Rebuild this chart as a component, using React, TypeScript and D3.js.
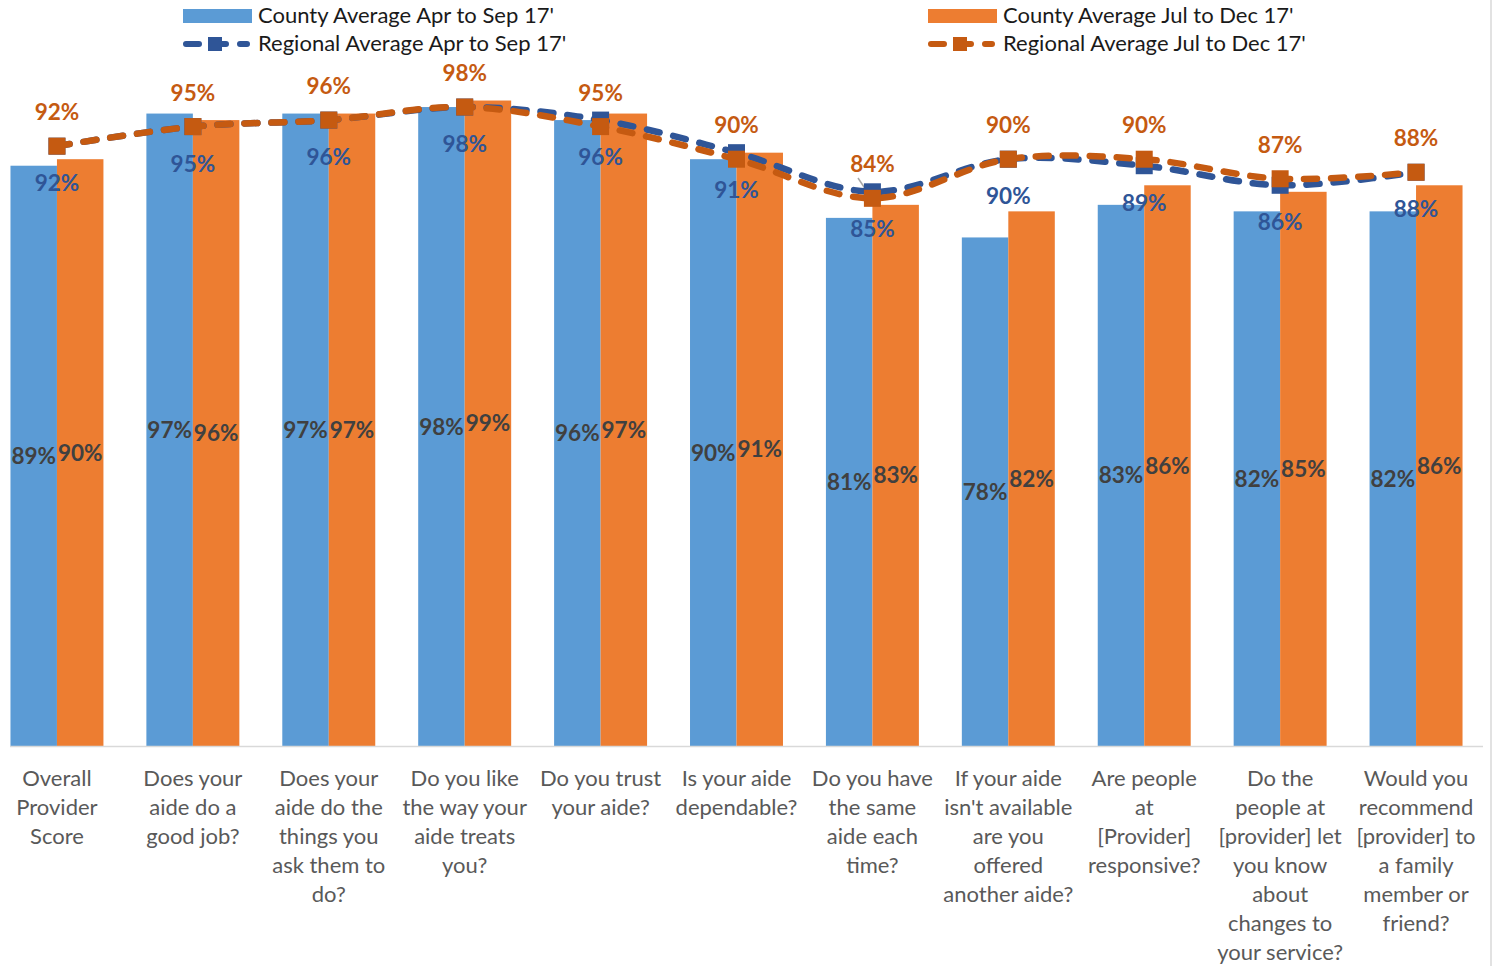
import React from 'react';
import * as d3 from 'd3';

const categories: string[] = [
  "Overall\nProvider\nScore",
  "Does your\naide do a\ngood job?",
  "Does your\naide do the\nthings you\nask them to\ndo?",
  "Do you like\nthe way your\naide treats\nyou?",
  "Do you trust\nyour aide?",
  "Is your aide\ndependable?",
  "Do you have\nthe same\naide each\ntime?",
  "If your aide\nisn't available\nare you\noffered\nanother aide?",
  "Are people\nat\n[Provider]\nresponsive?",
  "Do the\npeople at\n[provider] let\nyou know\nabout\nchanges to\nyour service?",
  "Would you\nrecommend\n[provider] to\na family\nmember or\nfriend?",
];

const countyAprSep: number[] = [89, 97, 97, 98, 96, 90, 81, 78, 83, 82, 82];
const countyJulDec: number[] = [90, 96, 97, 99, 97, 91, 83, 82, 86, 85, 86];
const regionalAprSep: number[] = [92, 95, 96, 98, 96, 91, 85, 90, 89, 86, 88];
const regionalJulDec: number[] = [92, 95, 96, 98, 95, 90, 84, 90, 90, 87, 88];

const seriesNames = [
  "County Average Apr to Sep 17'",
  "Regional Average Apr to Sep 17'",
  "County Average Jul to Dec 17'",
  "Regional Average Jul to Dec 17'",
];

const W = 1496;
const H = 966;
const BLUE = '#5B9BD5';
const ORANGE = '#ED7D31';
const DBLUE = '#2F5597';
const DORANGE = '#C55A11';
const FONT = "Lato, 'Open Sans', sans-serif";

export default function App() {
  const idx = categories.map((_, i) => String(i));
  const x0 = d3.scaleBand<string>().domain(idx).range([-11, 1484]).paddingInner(0.316).paddingOuter(0.158);
  const x1 = d3.scaleBand<string>().domain(['a', 'b']).range([0, x0.bandwidth()]);
  const y = d3.scaleLinear().domain([0, 100]).range([746, 94]);
  const cx = (i: number) => (x0(String(i)) as number) + x0.bandwidth() / 2;

  const line = d3.line<number>().x((_, i) => cx(i)).y(d => y(d)).curve(d3.curveCatmullRom.alpha(0.5));
  const ms = 17;
  const fmt = (v: number) => `${Math.round(v)}%`;
  const LF = 22.5;

  return (
    <svg width={W} height={H} style={{ position: 'absolute', left: 0, top: 0, background: '#fff' }} fontFamily={FONT}>
      <rect x={0} y={0} width={W} height={H} fill="#fff" />
      {/* right border */}
      <line x1={1491} x2={1491} y1={0} y2={H} stroke="#D9D9D9" strokeWidth={1.5} />
      {/* bars */}
      {categories.map((_, i) => (
        <g key={i} transform={`translate(${x0(String(i))},0)`}>
          <rect x={x1('a')} y={y(countyAprSep[i])} width={x1.bandwidth()} height={y(0) - y(countyAprSep[i])} fill={BLUE} />
          <rect x={x1('b')} y={y(countyJulDec[i])} width={x1.bandwidth()} height={y(0) - y(countyJulDec[i])} fill={ORANGE} />
        </g>
      ))}
      {/* axis */}
      <line x1={10} x2={1483} y1={y(0) + 0.5} y2={y(0) + 0.5} stroke="#D9D9D9" strokeWidth={1.5} />
      {/* bar labels */}
      {categories.map((_, i) => {
        const bx = x0(String(i)) as number;
        return (
          <g key={'bl' + i} fontSize={LF} fontWeight="bold" fill="#404040" textAnchor="middle">
            <text x={bx + (x1('a') as number) + x1.bandwidth() / 2} y={(y(countyAprSep[i]) + y(0)) / 2 + 8}>{fmt(countyAprSep[i])}</text>
            <text x={bx + (x1('b') as number) + x1.bandwidth() / 2} y={(y(countyJulDec[i]) + y(0)) / 2 + 8}>{fmt(countyJulDec[i])}</text>
          </g>
        );
      })}
      {/* leader line for 84% */}
      <line x1={858} y1={178} x2={866} y2={190} stroke="#A6A6A6" strokeWidth={1.5} />
      {/* blue regional line */}
      <path d={line(regionalAprSep) || ''} fill="none" stroke={DBLUE} strokeWidth={6.5} strokeDasharray="13 14" strokeLinecap="round" />
      {regionalAprSep.map((v, i) => (
        <rect key={'bm' + i} x={cx(i) - ms / 2} y={y(v) - ms / 2} width={ms} height={ms} fill={DBLUE} />
      ))}
      {/* orange regional line */}
      <path d={line(regionalJulDec) || ''} fill="none" stroke={DORANGE} strokeWidth={6.5} strokeDasharray="13 14" strokeLinecap="round" />
      {regionalJulDec.map((v, i) => (
        <rect key={'om' + i} x={cx(i) - ms / 2} y={y(v) - ms / 2} width={ms} height={ms} fill={DORANGE} />
      ))}
      {/* line labels */}
      {regionalAprSep.map((v, i) => (
        <text key={'blab' + i} x={cx(i)} y={y(v) + 37 + 8} fontSize={LF} fontWeight="bold" fill={DBLUE} textAnchor="middle">{fmt(v)}</text>
      ))}
      {regionalJulDec.map((v, i) => (
        <text key={'olab' + i} x={cx(i)} y={y(v) - 34 + 8} fontSize={LF} fontWeight="bold" fill={DORANGE} textAnchor="middle">{fmt(v)}</text>
      ))}
      {/* x labels */}
      {categories.map((c, i) => (
        <text key={'xl' + i} x={cx(i)} y={786} fontSize={22} fill="#595959" textAnchor="middle">
          {c.split('\n').map((l, j) => (
            <tspan key={j} x={cx(i)} y={786 + j * 29}>{l}</tspan>
          ))}
        </text>
      ))}
      {/* legend */}
      <g fontSize={22} fill="#1a1a1a">
        <rect x={183} y={9} width={69} height={14} fill={BLUE} />
        <text x={258} y={23}>{seriesNames[0]}</text>
        <path d="M186,44H247" stroke={DBLUE} strokeWidth={6} strokeDasharray="13 14" strokeLinecap="round" />
        <rect x={215 - 7} y={44 - 7} width={14} height={14} fill={DBLUE} />
        <text x={258} y={51}>{seriesNames[1]}</text>

        <rect x={928} y={9} width={69} height={14} fill={ORANGE} />
        <text x={1003} y={23}>{seriesNames[2]}</text>
        <path d="M931,44H992" stroke={DORANGE} strokeWidth={6} strokeDasharray="13 14" strokeLinecap="round" />
        <rect x={960 - 7} y={44 - 7} width={14} height={14} fill={DORANGE} />
        <text x={1003} y={51}>{seriesNames[3]}</text>
      </g>
    </svg>
  );
}
